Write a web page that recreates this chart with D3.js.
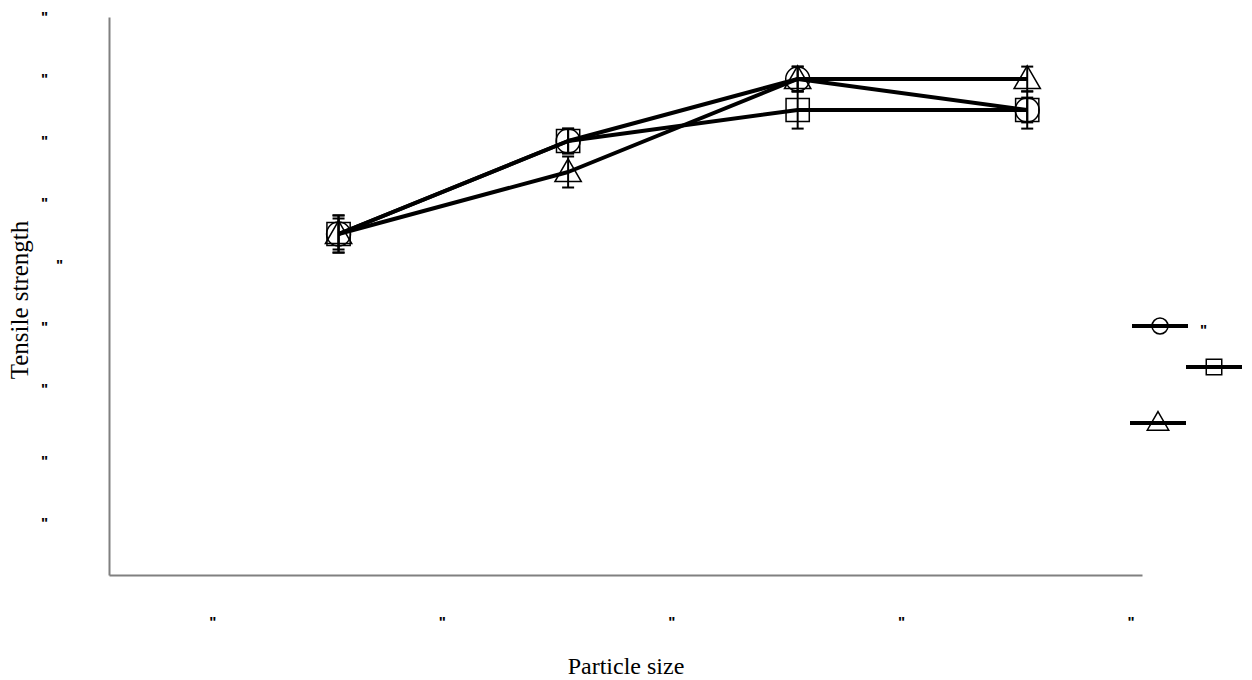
<!DOCTYPE html>
<html>
<head>
<meta charset="utf-8">
<script src="https://cdn.jsdelivr.net/npm/d3@7"></script>
<style>
  html, body { margin: 0; padding: 0; background: #fff; overflow: hidden; }
  svg { display: block; }
</style>
</head>
<body>
<div id="chart"></div>
<script>
// Category positions along the particle-size axis
const categories = [1, 2, 3, 4];

// Tensile strength per series (means) and their error half-widths
const circleValues   = [5.5, 7.0, 8.0, 7.5];
const circleErrors   = [0.3, 0.2, 0.2, 0.2];
const squareValues   = [5.5, 7.0, 7.5, 7.5];
const squareErrors   = [0.25, 0.2, 0.3, 0.3];
const triangleValues = [5.5, 6.5, 8.0, 8.0];
const triangleErrors = [0.3, 0.25, 0.2, 0.2];

// Axis tick positions and their labels
const xTickValues = [0.45, 1.45, 2.45, 3.45, 4.45];
const xTickLabels = ['"', '"', '"', '"', '"'];
const yTickValues = [0.85, 1.85, 3, 4, 5, 6, 7, 8, 9];
const yTickLabels = ['"', '"', '"', '"', '"', '"', '"', '"', '"'];

// Legend entries
const legendLabels = ['"', '', ''];

const W = 1252, H = 680;
const svg = d3.select("#chart").append("svg").attr("width", W).attr("height", H);

const x = d3.scaleLinear().domain([0, 4.5]).range([109, 1142]);
const y = d3.scaleLinear().domain([0, 9]).range([575, 17]);

// Axes
const yAxis = svg.append("g")
  .attr("transform", `translate(${x(0)},0)`)
  .call(d3.axisLeft(y).tickValues(yTickValues).tickFormat((d, i) => yTickLabels[i])
    .tickSize(0).tickPadding(61));
const xAxis = svg.append("g")
  .attr("transform", `translate(0,${y(0)})`)
  .call(d3.axisBottom(x).tickValues(xTickValues).tickFormat((d, i) => xTickLabels[i])
    .tickSize(0).tickPadding(41));

[yAxis, xAxis].forEach(g => {
  g.select(".domain").attr("stroke", "#808080").attr("stroke-width", 2);
  g.selectAll("text").attr("font-family", "Liberation Sans, Arial, sans-serif")
    .attr("font-size", 15).attr("font-weight", "bold").attr("fill", "#000");
});
yAxis.selectAll(".tick").filter((d, i) => i === 4).select("text").attr("dx", 15);

// Axis titles
svg.append("text")
  .attr("transform", `translate(28,300) rotate(-90)`)
  .attr("text-anchor", "middle")
  .attr("font-family", "Liberation Serif, Times New Roman, serif")
  .attr("font-size", 25)
  .text("Tensile strength");
svg.append("text")
  .attr("x", 626).attr("y", 674)
  .attr("text-anchor", "middle")
  .attr("font-family", "Liberation Serif, Times New Roman, serif")
  .attr("font-size", 24)
  .text("Particle size");

// Marker shapes
const symbols = {
  circle: d3.symbol().type(d3.symbolCircle),
  square: d3.symbol().type(d3.symbolSquare),
  triangle: d3.symbol().type(d3.symbolTriangle)
};

const series = [
  { shape: "circle", values: circleValues, errors: circleErrors, size: 450 },
  { shape: "square", values: squareValues, errors: squareErrors, size: 540 },
  { shape: "triangle", values: triangleValues, errors: triangleErrors, size: 300 }
];

const line = d3.line().x(d => x(d[0])).y(d => y(d[1]));

// Series lines
series.forEach(s => {
  svg.append("path")
    .datum(categories.map((c, i) => [c, s.values[i]]))
    .attr("d", line)
    .attr("fill", "none")
    .attr("stroke", "#000")
    .attr("stroke-width", 4)
    .attr("stroke-linejoin", "round");
});

// Error bars
series.forEach(s => {
  const g = svg.append("g").attr("stroke", "#000").attr("stroke-width", 2);
  categories.forEach((c, i) => {
    const lo = y(s.values[i] - s.errors[i]), hi = y(s.values[i] + s.errors[i]);
    g.append("line").attr("x1", x(c)).attr("x2", x(c)).attr("y1", lo).attr("y2", hi);
    g.append("line").attr("x1", x(c) - 6).attr("x2", x(c) + 6).attr("y1", lo).attr("y2", lo);
    g.append("line").attr("x1", x(c) - 6).attr("x2", x(c) + 6).attr("y1", hi).attr("y2", hi);
  });
});

// Markers
series.forEach(s => {
  svg.append("g").selectAll("path")
    .data(categories.map((c, i) => [c, s.values[i]]))
    .join("path")
    .attr("d", symbols[s.shape].size(s.size)())
    .attr("transform", d => `translate(${x(d[0])},${y(d[1]) + (s.shape === "triangle" ? 2 : 0)})`)
    .attr("fill", "none")
    .attr("stroke", "#000")
    .attr("stroke-width", 1.5);
});

// Legend
const legendPos = [[1160, 326], [1214, 367], [1158, 423]];
series.forEach((s, i) => {
  const [cx, cy] = legendPos[i];
  const g = svg.append("g").attr("transform", `translate(${cx},${cy})`);
  g.append("line").attr("x1", -28).attr("x2", 28).attr("y1", 0).attr("y2", 0)
    .attr("stroke", "#000").attr("stroke-width", 4);
  g.append("path")
    .attr("d", symbols[s.shape].size(s.shape === "square" ? 240 : 200)())
    .attr("transform", `translate(0,${s.shape === "triangle" ? 1 : 0})`)
    .attr("fill", "none").attr("stroke", "#000").attr("stroke-width", 1.5);
  g.append("text").attr("x", 40).attr("y", 9)
    .attr("font-family", "Liberation Sans, Arial, sans-serif")
    .attr("font-size", 15).attr("font-weight", "bold")
    .text(legendLabels[i]);
});
</script>
</body>
</html>
